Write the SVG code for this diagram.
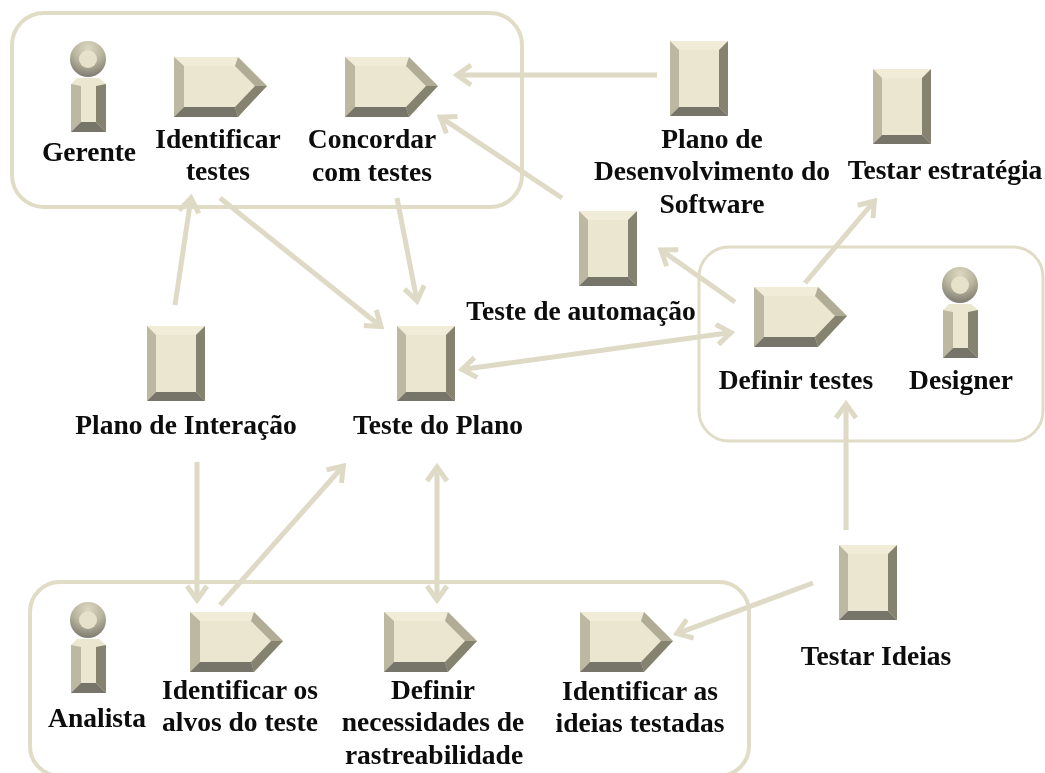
<svg xmlns="http://www.w3.org/2000/svg" width="1045" height="773" viewBox="0 0 1045 773">
<style>
.box{fill:#fff;stroke:#e0dcc6;stroke-width:4}
.thin{stroke-width:3}
.link{fill:none;stroke:#dedac5;stroke-width:5;marker-end:url(#arrow)}
.both{marker-start:url(#arrow)}
text{font-family:"Liberation Serif","Times New Roman",serif;font-weight:bold;font-size:27.5px;fill:#0a0a0a;text-anchor:middle}
.f{fill:#ebe6cf}.t{fill:#f1ecd7}.l{fill:#bdb8a2}.r{fill:#85826f}.b{fill:#77746a}.tr{fill:#b0ac96}
</style>
<defs>
<marker id="arrow" markerUnits="userSpaceOnUse" markerWidth="30" markerHeight="30" refX="20" refY="15" orient="auto-start-reverse"><path d="M6 5L20 15L6 25" fill="none" stroke="#dedac5" stroke-width="5"/></marker>
<radialGradient id="head" cx=".5" cy=".2" r=".85"><stop offset="0" stop-color="#dbd7c1"/><stop offset=".5" stop-color="#b8b49e"/><stop offset="1" stop-color="#77746a"/></radialGradient>
<filter id="soft" x="-5%" y="-5%" width="110%" height="110%"><feGaussianBlur stdDeviation=".5"/></filter>
<g id="doc">
<path class="f" d="M0 0H58V75H0Z"/>
<path class="t" d="M0 0H58L49 9H9Z"/>
<path class="l" d="M0 0L9 9V66L0 75Z"/>
<path class="r" d="M58 0L49 9V66L58 75Z"/>
<path class="b" d="M0 75L9 66H49L58 75Z"/>
</g>
<g id="task">
<path class="f" d="M0 0H64L93 29L64 60H0Z"/>
<path class="t" d="M0 0H64L61 9H10Z"/>
<path class="l" d="M0 0L10 9V50L0 60Z"/>
<path class="tr" d="M64 0L93 29H81L61 9Z"/>
<path class="r" d="M93 29L64 60L61 50L81 29Z"/>
<path class="b" d="M0 60L10 50H61L64 60Z"/>
</g>
<g id="person">
<circle cx="88" cy="59" r="18" fill="url(#head)"/>
<circle cx="88" cy="59" r="9" fill="#e6e1ca"/>
<path class="f" d="M71 84L77 78H99L106 84V132H71Z"/>
<path class="l" d="M71 84L81 86V122L71 132Z"/>
<path class="r" d="M106 84L96 86V122L106 132Z"/>
<path class="b" d="M71 132L81 122H96L106 132Z"/>
</g>
</defs>
<rect width="1045" height="773" fill="#fff"/>
<g filter="url(#soft)">
<g id="groups">
<rect class="box" x="12" y="13" width="510" height="194" rx="32"/>
<rect class="box thin" x="699" y="247" width="344" height="194" rx="30"/>
<rect class="box" x="30" y="582" width="719" height="194" rx="30"/>
</g>
<g id="connectors">
<path class="link" d="M657 75H457"/>
<path class="link" d="M562 198L440.300 117.200"/>
<path class="link" d="M735 302L661 250"/>
<path class="link" d="M805 283L874.400 201"/>
<path class="link both" d="M462 369.500L731 332.500"/>
<path class="link" d="M846 530V404"/>
<path class="link" d="M813 583L677 633.600"/>
<path class="link" d="M220 198L381 326.500"/>
<path class="link" d="M397 198L417 301"/>
<path class="link" d="M175 305L191 198"/>
<path class="link" d="M197 462V600"/>
<path class="link" d="M220 605L343.300 466"/>
<path class="link both" d="M437 467V600"/>
</g>
<g id="gerente"><use href="#person"/><text x="89" y="161">Gerente</text></g>
<g id="identificar-testes"><use href="#task" x="174" y="57"/><text x="218" y="148">Identificar</text><text x="218" y="180">testes</text></g>
<g id="concordar-testes"><use href="#task" x="345" y="57"/><text x="372" y="148">Concordar</text><text x="372" y="181">com testes</text></g>
<g id="plano-desenvolvimento"><use href="#doc" x="670" y="41"/><text x="712" y="148">Plano de</text><text x="712" y="180">Desenvolvimento do</text><text x="712" y="213">Software</text></g>
<g id="testar-estrategia"><use href="#doc" x="873" y="69"/><text x="945" y="179">Testar estratégia</text></g>
<g id="teste-automacao"><use href="#doc" x="579" y="211"/><text x="581" y="320">Teste de automação</text></g>
<g id="definir-testes"><use href="#task" x="754" y="287"/><text x="796" y="389">Definir testes</text></g>
<g id="designer"><use href="#person" x="872" y="226"/><text x="961" y="389">Designer</text></g>
<g id="plano-interacao"><use href="#doc" x="147" y="326"/><text x="186" y="434">Plano de Interação</text></g>
<g id="teste-plano"><use href="#doc" x="397" y="326"/><text x="438" y="434">Teste do Plano</text></g>
<g id="testar-ideias"><use href="#doc" x="839" y="545"/><text x="876" y="665">Testar Ideias</text></g>
<g id="analista"><use href="#person" y="561"/><text x="97" y="727">Analista</text></g>
<g id="identificar-alvos"><use href="#task" x="190" y="612"/><text x="240" y="699">Identificar os</text><text x="240" y="731">alvos do teste</text></g>
<g id="definir-necessidades"><use href="#task" x="384" y="612"/><text x="433" y="699">Definir</text><text x="433" y="731">necessidades de</text><text x="434" y="764">rastreabilidade</text></g>
<g id="identificar-ideias"><use href="#task" x="580" y="612"/><text x="640" y="700">Identificar as</text><text x="640" y="732">ideias testadas</text></g>
</g>
</svg>
